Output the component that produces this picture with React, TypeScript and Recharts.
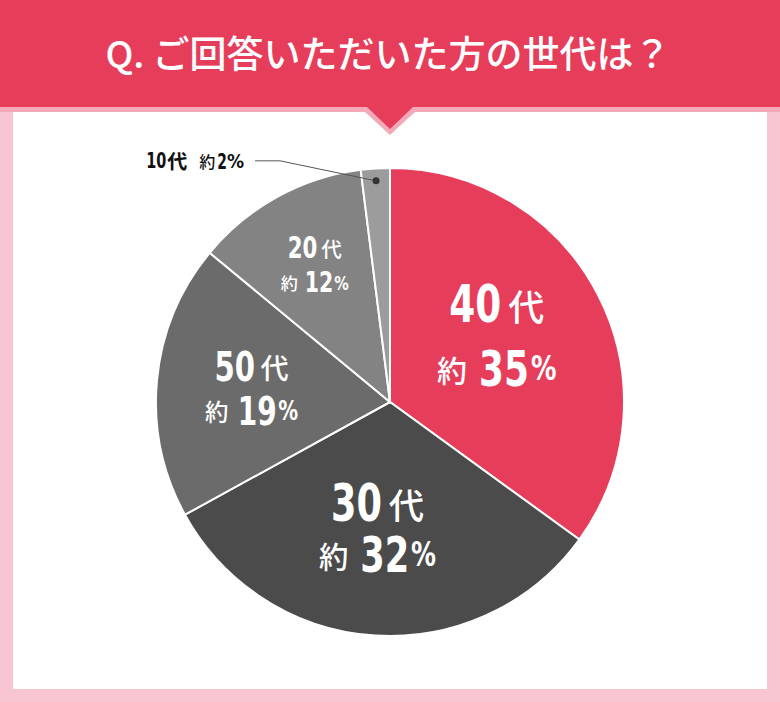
import React from 'react';
import { PieChart, Pie, Cell } from 'recharts';

// survey: age groups of respondents (clockwise from 12 o'clock)
const ages = ['40代', '30代', '50代', '20代', '10代'];
const shares = [35, 32, 19, 12, 2];
const title = 'Q. ご回答いただいた方の世代は？';

const sliceColors = ['#e63d5b', '#4b4b4b', '#6b6b6b', '#838383', '#9c9c9c'];
// label size / distance from centre / angle tweak / half line gap, per slice
const labelScale = [1, 0.98, 0.78, 0.57];
const labelRadius = [0.535, 0.546, 0.594, 0.667];
const labelShift = [4.5, -2, 0, 0];
const labelGap = [32, 26, 22, 17.5];

const data = ages.map((age, i) => ({ age, share: shares[i] }));

const NUM_FONT = '"DejaVu Sans", Roboto, sans-serif';
const JP_FONT = '"Noto Sans CJK JP", "Noto Sans", sans-serif';
const RADIAN = Math.PI / 180;

type Piece = { text: string; size: number; num?: boolean; weight?: number; em?: number; gap?: number };

// DejaVu Sans Bold advances, used to squeeze digits into a condensed look
const natural = (t: string) => (t === '%' ? 1.002 : 0.696);

const pieceWidth = (p: Piece) => p.text.length * p.size * (p.em ?? 1);

// lays out a row of mixed text pieces centred (or right aligned) at x
const Row = ({ x, y, pieces, fill, anchor = 'middle' }: { x: number; y: number; pieces: Piece[]; fill: string; anchor?: string }) => {
    const total = pieces.reduce((acc, p) => acc + (p.gap ?? 0) + pieceWidth(p), 0);
    let px = anchor === 'end' ? x - total : x - total / 2;
    return (
        <g>
            {pieces.map((p, i) => {
                px += p.gap ?? 0;
                const left = px;
                px += pieceWidth(p);
                if (p.num) {
                    const sx = (p.em ?? 1) / natural(p.text[0]);
                    return (
                        <text key={i} transform={`translate(${left},${y}) scale(${sx},1)`} x={0} y={0}
                            dominantBaseline="central" fill={fill} fontFamily={NUM_FONT} fontWeight={700} fontSize={p.size}>
                            {p.text}
                        </text>
                    );
                }
                return (
                    <text key={i} x={left} y={y} dominantBaseline="central" fill={fill}
                        fontFamily={JP_FONT} fontWeight={p.weight ?? 500} fontSize={p.size}>
                        {p.text}
                    </text>
                );
            })}
        </g>
    );
};

const renderLabel = (props: any) => {
    const { cx, cy, midAngle, outerRadius, index, payload } = props;
    const name: string = payload.age;
    const num = name.replace('代', '');
    const value = String(payload.share);

    // small slice: outside label with a leader line
    if (index === 4) {
        const r = outerRadius * 0.947;
        const dx = cx + r * Math.cos(-midAngle * RADIAN);
        const dy = cy + r * Math.sin(-midAngle * RADIAN);
        const ex = dx - 96;
        const ey = dy - 20;
        return (
            <g>
                <polyline points={`${dx},${dy} ${ex},${ey} ${ex - 25},${ey}`} fill="none" stroke="#555" strokeWidth={1} />
                <circle cx={dx} cy={dy} r={3.5} fill="#333" />
                <Row x={ex - 36} y={ey} anchor="end" fill="#111" pieces={[
                    { text: num, size: 21, num: true, em: 0.48 },
                    { text: '代', size: 20, weight: 700, gap: 1 },
                    { text: '約', size: 16, gap: 12 },
                    { text: value, size: 21, num: true, em: 0.46, gap: 2 },
                    { text: '%', size: 19, num: true, em: 0.9 },
                ]} />
            </g>
        );
    }

    const s = labelScale[index];
    const r = outerRadius * labelRadius[index];
    const a = (midAngle + labelShift[index]) * RADIAN;
    const x = cx + r * Math.cos(-a);
    const y = cy + r * Math.sin(-a);
    const g = labelGap[index];
    return (
        <g>
            <Row x={x} y={y - g} fill="#fff" pieces={[
                { text: num, size: 52 * s, num: true, em: 0.5 },
                { text: '代', size: 36 * s, gap: 7 * s },
            ]} />
            <Row x={x} y={y + g} fill="#fff" pieces={[
                { text: '約', size: 30 * s },
                { text: value, size: 50 * s, num: true, em: 0.5, gap: 12 * s },
                { text: '%', size: 34 * s, num: true, em: 0.75, gap: 2 * s },
            ]} />
        </g>
    );
};

const App = () => {
    return (
        <div style={{ position: 'absolute', left: 0, top: 0, width: 780, height: 702, background: '#f8c6d0', overflow: 'hidden' }}>
            <svg width={780} height={702} style={{ position: 'absolute', left: 0, top: 0 }}>
                <rect x={13} y={112} width={754} height={577} fill="#ffffff" />
                {/* header shadow */}
                <polygon points="0,0 780,0 780,112 415,112 390,135 365,112 0,112" fill="#f4a9b8" />
                <polygon points="0,0 780,0 780,107 413,107 390,129 367,107 0,107" fill="#e63d5b" />
                <text x={388} y={52} textAnchor="middle" dominantBaseline="central" fill="#fff"
                    fontFamily={JP_FONT} fontWeight={500} fontSize={37}>{title}</text>
            </svg>
            <div style={{ position: 'absolute', left: 0, top: 0 }}>
                <PieChart width={780} height={702} margin={{ top: 0, right: 0, bottom: 0, left: 0 }}>
                    <Pie
                        data={data}
                        dataKey="share"
                        nameKey="age"
                        cx={390}
                        cy={402}
                        outerRadius={234}
                        startAngle={90}
                        endAngle={-270}
                        stroke="#fff"
                        strokeWidth={2}
                        labelLine={false}
                        label={renderLabel}
                        isAnimationActive={false}
                    >
                        {data.map((entry, index) => (
                            <Cell key={`cell-${index}`} fill={sliceColors[index]} />
                        ))}
                    </Pie>
                </PieChart>
            </div>
        </div>
    );
};

export default App;
